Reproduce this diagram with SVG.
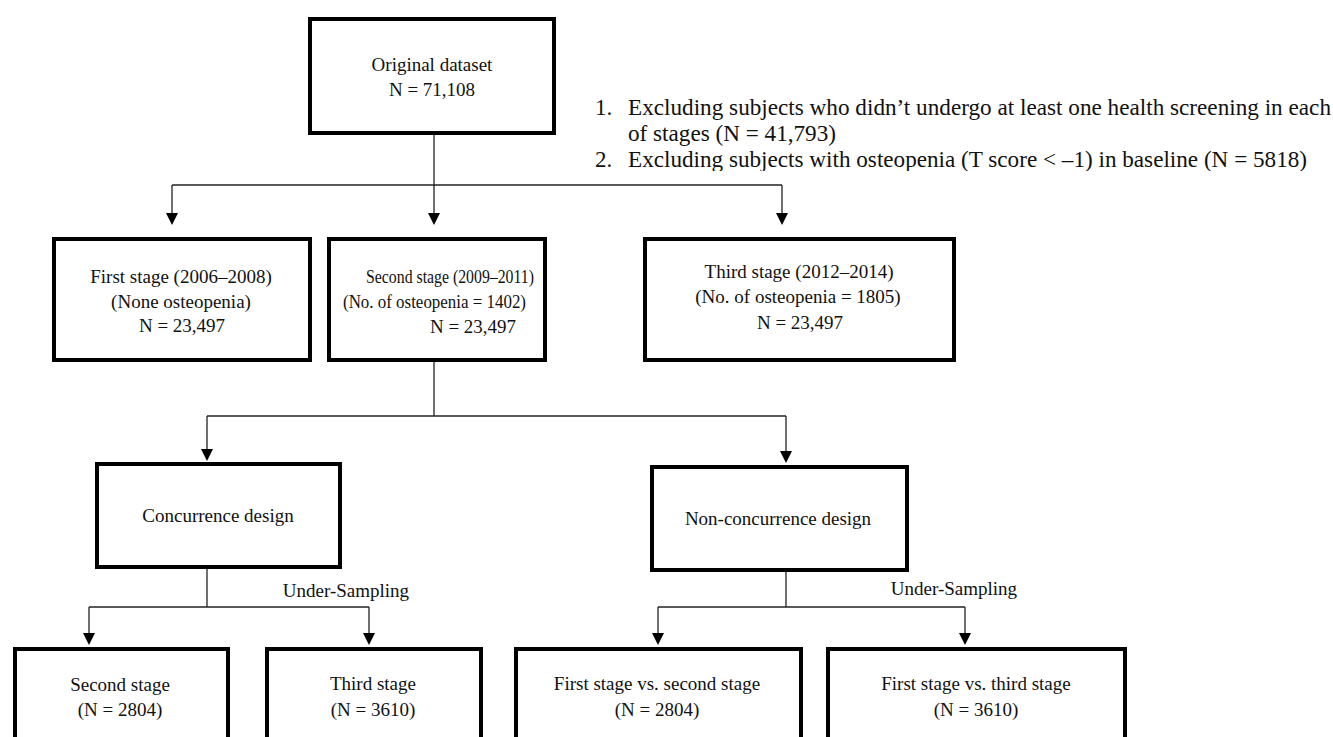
<svg xmlns="http://www.w3.org/2000/svg" width="1333" height="737" viewBox="0 0 1333 737">
<style>
  .box{fill:#fff;stroke:#000;stroke-width:4}
  .t{font-family:"Liberation Serif","Times New Roman",serif;font-size:19px;fill:#111;text-anchor:middle}
  .s{font-family:"Liberation Serif","Times New Roman",serif;font-size:18px;fill:#111}
  .n{font-family:"Liberation Serif","Times New Roman",serif;font-size:23px;fill:#111}
  .c{fill:none;stroke:#222;stroke-width:1.3}
</style>
<defs>
  <clipPath id="clip3"><rect x="580" y="140" width="753" height="31"/></clipPath>
</defs>
<rect width="1333" height="737" fill="#fff"/>

<g id="connectors">
  <path class="c" d="M434,135 V186"/>
  <path class="c" d="M172,185 H782"/>
  <path d="M172,185 V213" class="c"/><path d="M166,213 L178,213 L172,225 Z" fill="#000"/>
  <path d="M434,185 V213" class="c"/><path d="M428,213 L440,213 L434,225 Z" fill="#000"/>
  <path d="M782,185 V213" class="c"/><path d="M776,213 L788,213 L782,225 Z" fill="#000"/>

  <path class="c" d="M434,362 V416"/>
  <path class="c" d="M207,416 H786"/>
  <path d="M207,416 V449" class="c"/><path d="M201,449 L213,449 L207,461 Z" fill="#000"/>
  <path d="M786,416 V451" class="c"/><path d="M780,451 L792,451 L786,463 Z" fill="#000"/>

  <path class="c" d="M207,569 V607"/>
  <path class="c" d="M89,607 H369"/>
  <path d="M89,607 V633" class="c"/><path d="M83,633 L95,633 L89,645 Z" fill="#000"/>
  <path d="M369,607 V633" class="c"/><path d="M363,633 L375,633 L369,645 Z" fill="#000"/>

  <path class="c" d="M786,572 V607" stroke="#888"/>
  <path class="c" d="M658,607 H965"/>
  <path d="M658,607 V633" class="c"/><path d="M652,633 L664,633 L658,645 Z" fill="#000"/>
  <path d="M965,607 V633" class="c"/><path d="M959,633 L971,633 L965,645 Z" fill="#000"/>

  <text class="t" x="346" y="597">Under-Sampling</text>
  <text class="t" x="954" y="595">Under-Sampling</text>
</g>

<g id="exclusions">
  <text class="n" x="595" y="115">1.</text>
  <text class="n" x="628" y="115" textLength="703" lengthAdjust="spacingAndGlyphs">Excluding subjects who didn’t undergo at least one health screening in each</text>
  <text class="n" x="628" y="141" textLength="208" lengthAdjust="spacingAndGlyphs">of stages (N = 41,793)</text>
  <g clip-path="url(#clip3)">
    <text class="n" x="595" y="167">2.</text>
    <text class="n" x="628" y="167" textLength="679" lengthAdjust="spacingAndGlyphs">Excluding subjects with osteopenia (T score &lt; –1) in baseline (N = 5818)</text>
  </g>
</g>

<g id="original">
  <rect class="box" x="310" y="19" width="244" height="114"/>
  <text class="t" x="432" y="71">Original dataset</text>
  <text class="t" x="432" y="96">N = 71,108</text>
</g>

<g id="first-stage">
  <rect class="box" x="54" y="239" width="256" height="121"/>
  <text class="t" x="181" y="283">First stage (2006–2008)</text>
  <text class="t" x="181" y="308">(None osteopenia)</text>
  <text class="t" x="182" y="332">N = 23,497</text>
</g>

<g id="second-stage">
  <rect class="box" x="329" y="239" width="216" height="121"/>
  <text class="s" x="366" y="283" textLength="168" lengthAdjust="spacingAndGlyphs">Second stage (2009–2011)</text>
  <text class="s" x="343" y="308" textLength="183" lengthAdjust="spacingAndGlyphs">(No. of osteopenia = 1402)</text>
  <text class="s" x="430" y="333" textLength="86" lengthAdjust="spacingAndGlyphs">N = 23,497</text>
</g>

<g id="third-stage">
  <rect class="box" x="645" y="239" width="309" height="121"/>
  <text class="t" x="799" y="278">Third stage (2012–2014)</text>
  <text class="t" x="798" y="303">(No. of osteopenia = 1805)</text>
  <text class="t" x="800" y="329">N = 23,497</text>
</g>

<g id="concurrence">
  <rect class="box" x="97" y="464" width="243" height="103"/>
  <text class="t" x="218" y="522">Concurrence design</text>
</g>

<g id="non-concurrence">
  <rect class="box" x="652" y="467" width="255" height="103"/>
  <text class="t" x="778" y="525">Non-concurrence design</text>
</g>

<g id="conc-second">
  <rect class="box" x="15" y="649" width="213" height="110"/>
  <text class="t" x="120" y="691">Second stage</text>
  <text class="t" x="120" y="716">(N = 2804)</text>
</g>

<g id="conc-third">
  <rect class="box" x="267" y="649" width="214" height="110"/>
  <text class="t" x="373" y="690">Third stage</text>
  <text class="t" x="373" y="716">(N = 3610)</text>
</g>

<g id="nonconc-second">
  <rect class="box" x="516" y="649" width="285" height="110"/>
  <text class="t" x="657" y="690">First stage vs. second stage</text>
  <text class="t" x="657" y="716">(N = 2804)</text>
</g>

<g id="nonconc-third">
  <rect class="box" x="828" y="649" width="297" height="110"/>
  <text class="t" x="976" y="690">First stage vs. third stage</text>
  <text class="t" x="976" y="716">(N = 3610)</text>
</g>
</svg>
